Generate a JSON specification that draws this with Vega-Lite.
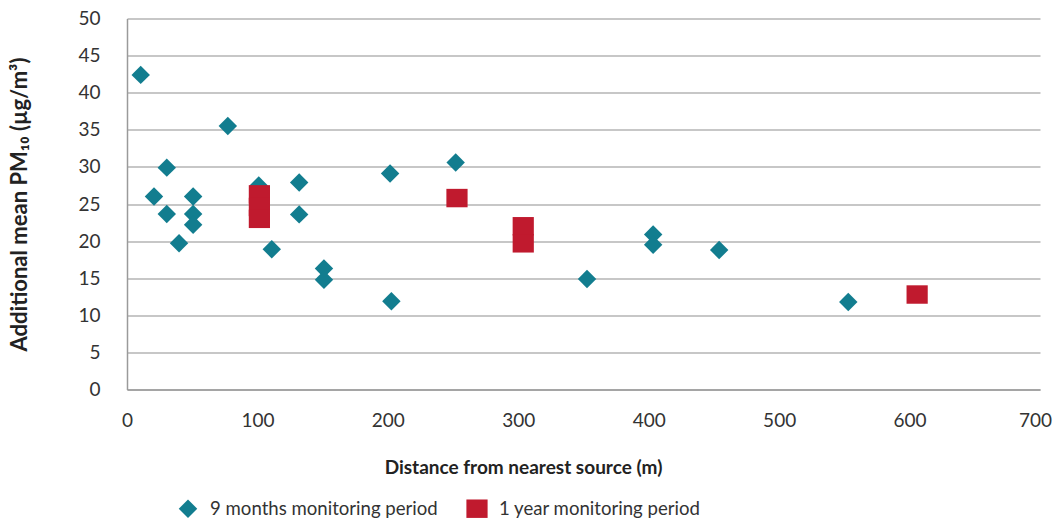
{
  "$schema": "https://vega.github.io/schema/vega-lite/v6.json",
  "autosize": "none",
  "width": 913,
  "height": 371,
  "padding": {"left": 127, "top": 18.5, "right": 15, "bottom": 130.5},
  "background": "white",
  "config": {
    "font": "Lato",
    "view": {"stroke": null},
    "axis": {
      "labelFont": "Lato",
      "labelFontSize": 19,
      "labelColor": "#333333",
      "labelFlush": false,
      "titleFont": "Lato",
      "titleFontWeight": "bold",
      "titleFontSize": 19,
      "titleColor": "#222222",
      "ticks": false,
      "domainColor": "#9a9a9a",
      "domainWidth": 1.5,
      "gridColor": "#b4b4b4",
      "gridWidth": 1.5
    }
  },
  "data": {
    "values": [
      {"distance": 10.5, "pm10": 42.4, "period": "9 months monitoring period"},
      {"distance": 20.7, "pm10": 26.0, "period": "9 months monitoring period"},
      {"distance": 30.5, "pm10": 29.9, "period": "9 months monitoring period"},
      {"distance": 30.5, "pm10": 23.65, "period": "9 months monitoring period"},
      {"distance": 39.9, "pm10": 19.7, "period": "9 months monitoring period"},
      {"distance": 50.7, "pm10": 26.0, "period": "9 months monitoring period"},
      {"distance": 50.7, "pm10": 23.65, "period": "9 months monitoring period"},
      {"distance": 50.7, "pm10": 22.2, "period": "9 months monitoring period"},
      {"distance": 77.3, "pm10": 35.5, "period": "9 months monitoring period"},
      {"distance": 101, "pm10": 27.5, "period": "9 months monitoring period"},
      {"distance": 111, "pm10": 18.9, "period": "9 months monitoring period"},
      {"distance": 132, "pm10": 27.9, "period": "9 months monitoring period"},
      {"distance": 132, "pm10": 23.6, "period": "9 months monitoring period"},
      {"distance": 151, "pm10": 16.3, "period": "9 months monitoring period"},
      {"distance": 151, "pm10": 14.8, "period": "9 months monitoring period"},
      {"distance": 201.7, "pm10": 29.1, "period": "9 months monitoring period"},
      {"distance": 202.7, "pm10": 11.9, "period": "9 months monitoring period"},
      {"distance": 252, "pm10": 30.6, "period": "9 months monitoring period"},
      {"distance": 352.7, "pm10": 14.9, "period": "9 months monitoring period"},
      {"distance": 403.4, "pm10": 20.9, "period": "9 months monitoring period"},
      {"distance": 403.4, "pm10": 19.5, "period": "9 months monitoring period"},
      {"distance": 454, "pm10": 18.8, "period": "9 months monitoring period"},
      {"distance": 553, "pm10": 11.8, "period": "9 months monitoring period"},
      {"distance": 101.5, "pm10": 26.3, "period": "1 year monitoring period"},
      {"distance": 101.5, "pm10": 24.6, "period": "1 year monitoring period"},
      {"distance": 101.5, "pm10": 23.0, "period": "1 year monitoring period"},
      {"distance": 253, "pm10": 25.8, "period": "1 year monitoring period"},
      {"distance": 303.8, "pm10": 22.0, "period": "1 year monitoring period"},
      {"distance": 303.8, "pm10": 19.7, "period": "1 year monitoring period"},
      {"distance": 605.8, "pm10": 12.8, "period": "1 year monitoring period"}
    ]
  },
  "mark": {"type": "point", "filled": true, "opacity": 1, "size": 340},
  "encoding": {
    "x": {
      "field": "distance",
      "type": "quantitative",
      "scale": {"domain": [0, 700], "nice": false},
      "axis": {
        "title": "Distance from nearest source (m)",
        "values": [0, 100, 200, 300, 400, 500, 600, 700],
        "grid": false,
        "labelPadding": 22,
        "labelOffset": {"condition": {"test": "datum.value == 700", "value": -5}, "value": 0},
        "titleX": 396,
        "titleY": 78,
        "titleBaseline": "middle",
        "titleAlign": "center",
        "titleAnchor": null
      }
    },
    "y": {
      "field": "pm10",
      "type": "quantitative",
      "scale": {"domain": [0, 50], "nice": false},
      "axis": {
        "title": "Additional mean PM₁₀ (µg/m³)",
        "titleFontSize": 22,
        "values": [0, 5, 10, 15, 20, 25, 30, 35, 40, 45, 50],
        "labelPadding": 27,
        "titleX": -108,
        "titleY": 185.5,
        "titleBaseline": "middle",
        "titleAlign": "center",
        "titleAnchor": null,
        "titleAngle": -90
      }
    },
    "color": {
      "field": "period",
      "type": "nominal",
      "scale": {
        "domain": ["9 months monitoring period", "1 year monitoring period"],
        "range": ["#127d8f", "#c01a2e"]
      },
      "legend": {
        "title": null,
        "orient": "none",
        "direction": "horizontal",
        "legendX": 51,
        "legendY": 480,
        "labelFont": "Lato",
        "labelFontSize": 18.6,
        "labelColor": "#333333",
        "labelOffset": 12,
        "columnPadding": 28,
        "symbolSize": 340,
        "labelLimit": 400
      }
    },
    "shape": {
      "field": "period",
      "type": "nominal",
      "scale": {
        "domain": ["9 months monitoring period", "1 year monitoring period"],
        "range": ["diamond", "M-1.15,-1H1.15V1H-1.15Z"]
      }
    }
  }
}
